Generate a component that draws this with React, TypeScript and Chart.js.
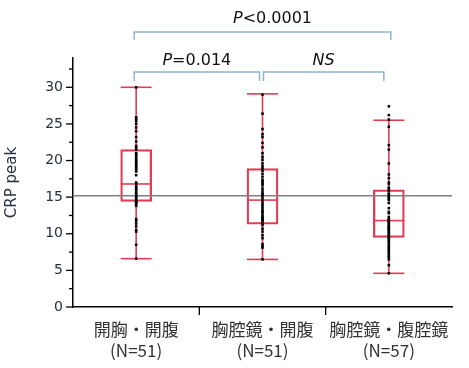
import React, { useEffect, useRef } from "react";
import { Chart, registerables } from "chart.js";

Chart.register(...registerables);

const categories = [
  ["開胸・開腹", "(N=51)"],
  ["胸腔鏡・開腹", "(N=51)"],
  ["胸腔鏡・腹腔鏡", "(N=57)"],
];

const whiskerLow = [6.6, 6.5, 4.6];
const q1 = [14.4, 11.3, 9.5];
const medians = [16.8, 14.6, 11.8];
const q3 = [21.5, 18.9, 16.0];
const whiskerHigh = [30.0, 29.1, 25.5];

const referenceLine = 15.2;

const group1 = [
  30.0, 25.9, 25.7, 25.4, 25.0, 24.5, 24.0, 23.2, 22.6, 22.0, 21.8, 21.5, 21.0,
  20.6, 20.3, 20.1, 19.9, 19.7, 19.5, 19.3, 19.1, 18.9, 18.7, 18.5, 16.8, 16.5,
  16.3, 16.1, 15.9, 15.6, 15.4, 15.2, 15.0, 14.8, 14.6, 14.4, 14.2, 14.0, 13.8,
  12.0, 11.8, 11.4, 11.0, 10.5, 10.3, 8.5, 6.6, 17.0, 18.0, 20.8, 14.3,
];
const group2 = [
  29.0, 26.4, 24.3, 23.6, 23.2, 22.4, 21.8, 21.0, 20.5, 20.1, 19.6, 19.2, 18.9,
  18.6, 18.2, 17.8, 17.4, 17.0, 16.6, 16.2, 15.9, 15.6, 15.3, 15.0, 14.7, 14.4,
  14.1, 13.8, 13.5, 13.2, 12.9, 12.6, 12.3, 12.0, 11.7, 11.4, 11.2, 10.7, 10.3,
  9.8, 9.4, 8.6, 8.3, 8.1, 6.5, 16.8, 15.4, 13.0, 12.2, 11.9, 17.2,
];
const group3 = [
  27.4, 26.2, 25.6, 24.6, 22.1, 21.5, 19.6, 18.1, 17.6, 17.0, 16.3, 16.2, 15.9,
  15.5, 15.3, 15.0, 14.8, 14.6, 13.5, 12.3, 11.9, 11.8, 11.6, 11.4, 11.2, 11.0,
  10.9, 10.7, 10.5, 10.3, 10.2, 10.0, 9.8, 9.6, 9.4, 9.2, 9.0, 8.7, 8.4, 8.0,
  7.8, 7.5, 7.3, 7.0, 6.8, 5.7, 4.6, 16.8, 14.2, 13.0, 12.8, 12.0, 11.7, 10.8,
  9.5, 8.2, 6.5,
];
const groups = [group1, group2, group3];

const yTickValues = [0, 2.5, 5, 7.5, 10, 12.5, 15, 17.5, 20, 22.5, 25, 27.5, 30, 32.5];

const brackets = [
  { from: 0, to: 2, fromOff: -2, toOff: 2, y: 32, drop: 8, text: "<0.0001", italic: "P", textOff: 10, textY: 23 },
  { from: 0, to: 1, fromOff: -2, toOff: -3, y: 72, drop: 9, text: "=0.014", italic: "P", textOff: 0, textY: 65 },
  { from: 1, to: 2, fromOff: 1, toOff: -5, y: 72, drop: 9, text: "", italic: "NS", textOff: 0, textY: 65 },
];

const RED = "#e23c55";

const boxPlugin = {
  id: "boxExtras",
  afterDatasetDraw(chart: any, args: any) {
    if (args.index !== 0) return;
    const { ctx, chartArea } = chart;
    const y = chart.scales.y;
    const meta = chart.getDatasetMeta(0);
    ctx.save();
    ctx.strokeStyle = RED;
    ctx.lineWidth = 1.6;
    meta.data.forEach((bar: any, i: number) => {
      const cx = bar.x;
      const half = bar.width / 2;
      const line = (x1: number, y1: number, x2: number, y2: number) => {
        ctx.beginPath();
        ctx.moveTo(x1, y1);
        ctx.lineTo(x2, y2);
        ctx.stroke();
      };
      line(cx, y.getPixelForValue(whiskerLow[i]), cx, y.getPixelForValue(q1[i]));
      line(cx, y.getPixelForValue(q3[i]), cx, y.getPixelForValue(whiskerHigh[i]));
      line(cx - half, y.getPixelForValue(whiskerLow[i]), cx + half, y.getPixelForValue(whiskerLow[i]));
      line(cx - half, y.getPixelForValue(whiskerHigh[i]), cx + half, y.getPixelForValue(whiskerHigh[i]));
      line(cx - half, y.getPixelForValue(medians[i]), cx + half, y.getPixelForValue(medians[i]));
    });
    ctx.strokeStyle = "#808080";
    ctx.lineWidth = 1.5;
    const ry = y.getPixelForValue(referenceLine);
    ctx.beginPath();
    ctx.moveTo(chartArea.left, ry);
    ctx.lineTo(chartArea.right, ry);
    ctx.stroke();
    ctx.restore();
  },
  afterDraw(chart: any) {
    const { ctx, chartArea } = chart;
    const x = chart.scales.x;
    const y = chart.scales.y;
    ctx.save();
    ctx.strokeStyle = "#000";
    ctx.lineWidth = 1.3;
    yTickValues.forEach((v) => {
      const py = y.getPixelForValue(v);
      const len = v % 5 === 0 ? 7 : 4;
      ctx.beginPath();
      ctx.moveTo(chartArea.left - len, py);
      ctx.lineTo(chartArea.left, py);
      ctx.stroke();
    });
    for (let i = 0; i < categories.length - 1; i++) {
      const px = (x.getPixelForValue(i) + x.getPixelForValue(i + 1)) / 2;
      ctx.beginPath();
      ctx.moveTo(px, chartArea.bottom);
      ctx.lineTo(px, chartArea.bottom + 8);
      ctx.stroke();
    }
    ctx.strokeStyle = "#8fb5cd";
    ctx.lineWidth = 1.5;
    brackets.forEach((b) => {
      const x1 = x.getPixelForValue(b.from) + b.fromOff;
      const x2 = x.getPixelForValue(b.to) + b.toOff;
      ctx.beginPath();
      ctx.moveTo(x1, b.y + b.drop);
      ctx.lineTo(x1, b.y);
      ctx.lineTo(x2, b.y);
      ctx.lineTo(x2, b.y + b.drop);
      ctx.stroke();
      const italicFont = "italic 16px 'DejaVu Sans'";
      const normalFont = "16px 'DejaVu Sans'";
      ctx.font = italicFont;
      const wi = ctx.measureText(b.italic).width;
      ctx.font = normalFont;
      const wn = ctx.measureText(b.text).width;
      const cx = (x1 + x2) / 2 + b.textOff;
      const start = cx - (wi + wn) / 2;
      ctx.fillStyle = "#111";
      ctx.textBaseline = "alphabetic";
      ctx.textAlign = "left";
      ctx.font = italicFont;
      ctx.fillText(b.italic, start, b.textY);
      ctx.font = normalFont;
      ctx.fillText(b.text, start + wi, b.textY);
    });
    ctx.restore();
  },
};

export default function App() {
  const ref = useRef<HTMLCanvasElement | null>(null);
  useEffect(() => {
    document.body.style.margin = "0";
    const canvas = ref.current;
    if (!canvas) return;
    const pointDatasets = groups.map((g, i) => ({
      type: "line",
      data: g.map((v) => ({ x: i, y: v })),
      parsing: false,
      showLine: false,
      pointStyle: "rect",
      pointRadius: 1.8,
      pointBorderWidth: 0,
      pointBackgroundColor: "#000",
      borderColor: "#000",
      order: 1,
    }));
    const chart = new Chart(canvas, {
      type: "bar",
      data: {
        labels: categories as any,
        datasets: [
          {
            type: "bar",
            data: q1.map((v, i) => [v, q3[i]]) as any,
            backgroundColor: "rgba(0,0,0,0)",
            borderColor: RED,
            borderWidth: 1.6,
            borderSkipped: false,
            barThickness: 31,
            order: 2,
          } as any,
          ...(pointDatasets as any[]),
        ],
      },
      options: {
        responsive: false,
        animation: false,
        events: [],
        layout: { padding: { top: 58, right: 17, left: 0, bottom: 0 } },
        plugins: { legend: { display: false }, tooltip: { enabled: false } },
        scales: {
          x: {
            type: "category",
            grid: { display: true, drawOnChartArea: false, drawTicks: false },
            border: { display: true, color: "#000", width: 1.5 },
            ticks: {
              padding: 13,
              color: "#333",
              maxRotation: 0,
              autoSkip: false,
              font: { family: "'Noto Sans CJK JP'", size: 17, lineHeight: 1.18 },
            },
            afterFit: (scale: any) => {
              scale.height = 61;
            },
          },
          y: {
            type: "linear",
            min: 0,
            max: 34,
            grid: { display: true, drawOnChartArea: false, drawTicks: false },
            border: { display: true, color: "#000", width: 1.5 },
            ticks: {
              stepSize: 2.5,
              padding: 10,
              color: "#263040",
              font: { family: "'DejaVu Sans'", size: 14 },
              callback: (v: any) => (Number(v) % 5 === 0 ? String(v) : ""),
            },
            title: {
              display: true,
              text: "CRP peak",
              color: "#263040",
              font: { family: "'DejaVu Sans'", size: 15 },
              padding: { top: 3, bottom: 0 },
            },
            afterFit: (scale: any) => {
              scale.width = 73;
            },
          },
        },
      },
      plugins: [boxPlugin],
    });
    return () => chart.destroy();
  }, []);
  return (
    <div style={{ width: 469, height: 368 }}>
      <canvas ref={ref} width={469} height={368} />
    </div>
  );
}
